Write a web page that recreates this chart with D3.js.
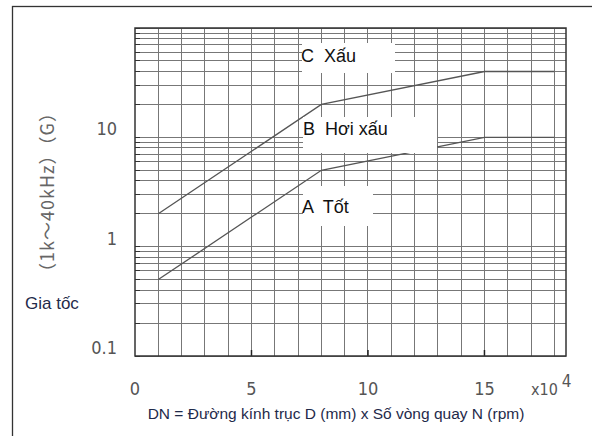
<!DOCTYPE html>
<html>
<head>
<meta charset="utf-8">
<script src="https://cdn.jsdelivr.net/npm/d3@7"></script>
<style>
  body { margin: 0; background: #fff; }
  svg { display: block; }
  .tick-label { font-family: "Liberation Sans Narrow", "DejaVu Sans Condensed", "Liberation Sans", sans-serif; fill: #555; }
  .zone-label { font-family: "Liberation Sans", Arial, sans-serif; font-size: 18px; fill: #111; white-space: pre; }
</style>
</head>
<body>
<svg id="chart"></svg>
<script>
// DN values (x10^4) where the boundary lines bend
const dn = [1, 8, 15, 18];
// boundary between A (Tốt) and B (Hơi xấu), in G
const boundaryAB = [0.5, 5, 10, 10];
// boundary between B (Hơi xấu) and C (Xấu), in G
const boundaryBC = [2, 20, 40, 40];

const xTicks = [0, 5, 10, 15];
const yTicks = [0.1, 1, 10];
const zoneNames = ["C  Xấu", "B  Hơi xấu", "A  Tốt"];

const W = 592, H = 436;
const margin = { left: 135, top: 28, right: 26, bottom: 80 };

const svg = d3.select("#chart").attr("width", W).attr("height", H);

// outer frame (only top and left visible)
svg.append("rect")
    .attr("x", 12.5).attr("y", 6.5)
    .attr("width", 640).attr("height", 500)
    .attr("fill", "none").attr("stroke", "#333").attr("stroke-width", 1.3);

const x = d3.scaleLinear().domain([0, 18.5]).range([margin.left, W - margin.right]);
const y = d3.scaleLog().domain([0.1, 100]).range([356, margin.top]);

const g = svg.append("g");

// grid
const xGrid = d3.range(1, 19);
const yGrid = [];
[0.1, 1, 10].forEach(d => { for (let k = 1; k <= 10; k++) yGrid.push(d * k); });

g.append("g").selectAll("line").data(yGrid).join("line")
    .attr("x1", x(0)).attr("x2", x(18.5))
    .attr("y1", d => y(d)).attr("y2", d => y(d))
    .attr("stroke", "#777").attr("stroke-width", 1)
    .attr("shape-rendering", "crispEdges");

g.append("g").selectAll("line").data(xGrid).join("line")
    .attr("x1", d => x(d)).attr("x2", d => x(d))
    .attr("y1", y(0.1)).attr("y2", y(100))
    .attr("stroke", "#777").attr("stroke-width", 1)
    .attr("shape-rendering", "crispEdges");

// inward ticks
g.append("g").selectAll("line").data(yGrid).join("line")
    .attr("x1", x(0)).attr("x2", x(0) + 5)
    .attr("y1", d => y(d)).attr("y2", d => y(d))
    .attr("stroke", "#333").attr("shape-rendering", "crispEdges");
g.append("g").selectAll("line").data(xTicks.slice(1)).join("line")
    .attr("x1", d => x(d)).attr("x2", d => x(d))
    .attr("y1", y(0.1)).attr("y2", y(0.1) - 6)
    .attr("stroke", "#222").attr("stroke-width", 1.5);

// boundary lines
const line = d3.line()
    .x((d, i) => x(dn[i]))
    .y(d => y(d));

[boundaryBC, boundaryAB].forEach(s => {
  g.append("path")
      .attr("d", line(s))
      .attr("fill", "none")
      .attr("stroke", "#555")
      .attr("stroke-width", 1.3);
});

// zone labels with white boxes over the grid
const boxes = [
  { x0: 302, y0: 43, x1: 395, y1: 73, tx: 301, ty: 62 },
  { x0: 303, y0: 117, x1: 437, y1: 153, tx: 303, ty: 135 },
  { x0: 303, y0: 186, x1: 373, y1: 226, tx: 302, ty: 213 }
];
boxes.forEach((b, i) => {
  g.append("rect")
      .attr("x", b.x0).attr("y", b.y0)
      .attr("width", b.x1 - b.x0).attr("height", b.y1 - b.y0)
      .attr("fill", "#fff");
  g.append("text").attr("class", "zone-label")
      .attr("x", b.tx).attr("y", b.ty)
      .attr("xml:space", "preserve")
      .text(zoneNames[i]);
});

// plot frame
g.append("rect")
    .attr("x", x(0)).attr("y", y(100))
    .attr("width", x(18.5) - x(0)).attr("height", y(0.1) - y(100))
    .attr("fill", "none").attr("stroke", "#333").attr("stroke-width", 1.5);

// y tick labels
svg.append("g").selectAll("text").data(yTicks).join("text")
    .attr("class", "tick-label")
    .attr("x", 117).attr("y", d => y(d) - 2)
    .attr("text-anchor", "end")
    .attr("font-size", 18)
    .text(d => d);

// x tick labels
svg.append("g").selectAll("text").data(xTicks).join("text")
    .attr("class", "tick-label")
    .attr("x", d => x(d)).attr("y", 395)
    .attr("text-anchor", "middle")
    .attr("font-size", 18)
    .text(d => d);

const mult = svg.append("text").attr("class", "tick-label")
    .attr("x", 531).attr("y", 395).attr("font-size", 16);
mult.append("tspan").text("x10");
mult.append("tspan").attr("dx", 4).attr("dy", -8).attr("font-size", 17).text("4");

// axis titles
svg.append("text")
    .attr("x", 336).attr("y", 419)
    .attr("text-anchor", "middle")
    .attr("font-family", "\"Liberation Sans Narrow\", \"Liberation Sans\", sans-serif")
    .attr("font-size", 15.5)
    .attr("fill", "#1f2a4a")
    .text("DN = Đường kính trục D (mm) x Số vòng quay N (rpm)");

svg.append("text")
    .attr("transform", "translate(54,192) rotate(-90)")
    .attr("text-anchor", "middle")
    .attr("font-family", "\"Noto Sans CJK JP\", sans-serif")
    .attr("font-size", 18)
    .attr("letter-spacing", 1)
    .attr("fill", "#666")
    .text("（1k～40kHz）（G）");

svg.append("text")
    .attr("x", 25).attr("y", 309)
    .attr("font-family", "\"Liberation Sans\", Arial, sans-serif")
    .attr("font-size", 17)
    .attr("fill", "#1f2a4a")
    .text("Gia tốc");
</script>
</body>
</html>
